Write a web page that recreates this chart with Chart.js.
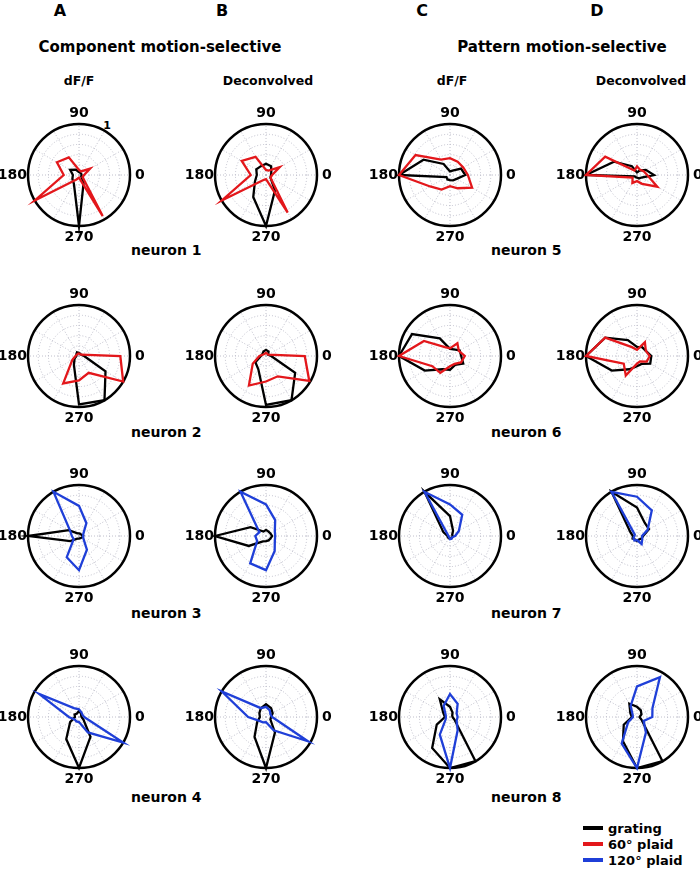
<!DOCTYPE html>
<html>
<head>
<meta charset="utf-8">
<script src="https://cdn.jsdelivr.net/npm/chart.js@4.4.0/dist/chart.umd.min.js"></script>
<style>
  body { margin: 0; background: #fff; }
  #fig { position: relative; width: 700px; height: 870px; font-family: 'DejaVu Sans', sans-serif; font-weight: bold; color: #000; }
  .t { position: absolute; white-space: nowrap; transform: translate(-50%, -50%); }
  .l { position: absolute; white-space: nowrap; transform: translateY(-50%); }
  canvas { position: absolute; }
</style>
</head>
<body>
<div id="fig">
  <div class="t" style="left:60px;top:10px;font-size:16px">A</div>
  <div class="t" style="left:222px;top:10px;font-size:16px">B</div>
  <div class="t" style="left:422px;top:10px;font-size:16px">C</div>
  <div class="t" style="left:597px;top:10px;font-size:16px">D</div>
  <div class="t" style="left:160px;top:47px;font-size:15px">Component motion-selective</div>
  <div class="t" style="left:562px;top:47px;font-size:15px">Pattern motion-selective</div>
  <div class="t" style="left:79px;top:80px;font-size:12.5px">dF/F</div>
  <div class="t" style="left:268px;top:80px;font-size:12.5px">Deconvolved</div>
  <div class="t" style="left:452px;top:80px;font-size:12.5px">dF/F</div>
  <div class="t" style="left:641px;top:80px;font-size:12.5px">Deconvolved</div>
  <div class="t" style="left:107px;top:125px;font-size:11px">1</div>
  <div class="l" style="left:131px;top:250px;font-size:14px">neuron 1</div>
  <div class="l" style="left:131px;top:432px;font-size:14px">neuron 2</div>
  <div class="l" style="left:131px;top:613px;font-size:14px">neuron 3</div>
  <div class="l" style="left:131px;top:797px;font-size:14px">neuron 4</div>
  <div class="l" style="left:491px;top:250px;font-size:14px">neuron 5</div>
  <div class="l" style="left:491px;top:432px;font-size:14px">neuron 6</div>
  <div class="l" style="left:491px;top:613px;font-size:14px">neuron 7</div>
  <div class="l" style="left:491px;top:797px;font-size:14px">neuron 8</div>
  <div id="legend"></div>
</div>
<script>
// directions (deg) in data order
const directions = [0, 30, 60, 90, 120, 150, 180, 210, 240, 270, 300, 330];
const axisLabels = { 0: '0', 90: '90', 180: '180', 270: '270' };

const legendNames = ['grating', '60° plaid', '120° plaid'];
const colGrating = '#000000';
const colPlaid60 = '#e3171b';
const colPlaid120 = '#1f3fd8';

// normalized responses per direction
const n1A_grating = [0.05, 0.05, 0.05, 0.06, 0.12, 0.2, 0.12, 0.15, 0.2, 1.0, 0.18, 0.05];
const n1A_plaid = [0.1, 0.25, 0.08, 0.1, 0.4, 0.5, 0.3, 1.0, 0.1, 0.05, 0.93, 0.08];
const n1B_grating = [0.1, 0.12, 0.2, 0.22, 0.2, 0.22, 0.18, 0.25, 0.5, 1.0, 0.35, 0.1];
const n1B_plaid = [0.12, 0.31, 0.1, 0.1, 0.41, 0.55, 0.3, 1.0, 0.12, 0.08, 0.85, 0.1];
const n2A_grating = [0.1, 0.05, 0.05, 0.06, 0.08, 0.06, 0.05, 0.1, 0.2, 0.95, 1.0, 0.6];
const n2A_plaid = [0.81, 0.05, 0.04, 0.05, 0.05, 0.05, 0.07, 0.15, 0.62, 0.48, 0.38, 1.0];
const n2B_grating = [0.1, 0.05, 0.1, 0.12, 0.1, 0.08, 0.1, 0.24, 0.3, 0.96, 1.0, 0.66];
const n2B_plaid = [0.76, 0.05, 0.05, 0.06, 0.05, 0.06, 0.13, 0.3, 0.67, 0.5, 0.46, 0.98];
const n3A_grating = [0.08, 0.05, 0.05, 0.05, 0.06, 0.23, 1.0, 0.2, 0.06, 0.05, 0.05, 0.06];
const n3A_plaid = [0.08, 0.1, 0.29, 0.59, 1.0, 0.2, 0.14, 0.12, 0.48, 0.67, 0.31, 0.1];
const n3B_grating = [0.12, 0.1, 0.1, 0.12, 0.1, 0.35, 1.0, 0.39, 0.12, 0.1, 0.1, 0.1];
const n3B_plaid = [0.18, 0.2, 0.36, 0.62, 1.0, 0.15, 0.21, 0.2, 0.62, 0.67, 0.34, 0.2];
const n4A_grating = [0.05, 0.05, 0.08, 0.12, 0.08, 0.1, 0.08, 0.2, 0.5, 1.0, 0.45, 0.1];
const n4A_plaid = [0.1, 0.08, 0.1, 0.15, 0.2, 0.9, 0.2, 0.1, 0.1, 0.1, 0.35, 1.0];
const n4B_grating = [0.1, 0.15, 0.2, 0.25, 0.2, 0.15, 0.12, 0.2, 0.45, 1.0, 0.35, 0.1];
const n4B_plaid = [0.12, 0.1, 0.15, 0.2, 0.2, 1.0, 0.35, 0.15, 0.12, 0.1, 0.3, 0.95];
const n5C_grating = [0.3, 0.25, 0.1, 0.07, 0.25, 0.6, 1.0, 0.08, 0.1, 0.1, 0.12, 0.15];
const n5C_plaid = [0.35, 0.3, 0.3, 0.33, 0.35, 0.78, 1.0, 0.45, 0.33, 0.22, 0.3, 0.5];
const n5D_grating = [0.33, 0.2, 0.1, 0.05, 0.2, 0.52, 1.0, 0.05, 0.05, 0.05, 0.08, 0.1];
const n5D_plaid = [0.2, 0.15, 0.12, 0.17, 0.1, 0.72, 1.0, 0.1, 0.18, 0.12, 0.2, 0.46];
const n6C_grating = [0.22, 0.22, 0.15, 0.14, 0.4, 0.86, 1.0, 0.57, 0.3, 0.27, 0.2, 0.3];
const n6C_plaid = [0.29, 0.2, 0.29, 0.15, 0.2, 0.59, 1.0, 0.4, 0.38, 0.2, 0.18, 0.25];
const n6D_grating = [0.28, 0.2, 0.2, 0.18, 0.36, 0.72, 1.0, 0.57, 0.3, 0.2, 0.18, 0.3];
const n6D_plaid = [0.25, 0.2, 0.31, 0.12, 0.2, 0.72, 1.0, 0.3, 0.44, 0.15, 0.12, 0.22];
const n7C_grating = [0.05, 0.05, 0.12, 0.39, 1.0, 0.15, 0.05, 0.05, 0.05, 0.05, 0.05, 0.05];
const n7C_plaid = [0.1, 0.2, 0.48, 0.62, 1.0, 0.05, 0.03, 0.03, 0.03, 0.06, 0.06, 0.05];
const n7D_grating = [0.12, 0.27, 0.3, 0.56, 1.0, 0.15, 0.08, 0.1, 0.08, 0.1, 0.08, 0.1];
const n7D_plaid = [0.1, 0.24, 0.58, 0.77, 1.0, 0.05, 0.05, 0.08, 0.1, 0.08, 0.18, 0.12];
const n8C_grating = [0.05, 0.05, 0.1, 0.2, 0.4, 0.15, 0.1, 0.3, 0.7, 1.0, 1.0, 0.1];
const n8C_plaid = [0.15, 0.15, 0.3, 0.45, 0.25, 0.1, 0.08, 0.1, 0.4, 1.0, 0.3, 0.15];
const n8D_grating = [0.05, 0.1, 0.15, 0.2, 0.3, 0.15, 0.1, 0.3, 0.55, 1.0, 1.0, 0.1];
const n8D_plaid = [0.3, 0.35, 0.9, 0.6, 0.25, 0.1, 0.08, 0.2, 0.6, 1.0, 0.35, 0.15];

const colX = [79, 266, 450, 637];
const rowY = [174.5, 355.5, 536, 717];

const panels = [
  [0, 0, n1A_grating, n1A_plaid, colPlaid60], [1, 0, n1B_grating, n1B_plaid, colPlaid60],
  [0, 1, n2A_grating, n2A_plaid, colPlaid60], [1, 1, n2B_grating, n2B_plaid, colPlaid60],
  [0, 2, n3A_grating, n3A_plaid, colPlaid120], [1, 2, n3B_grating, n3B_plaid, colPlaid120],
  [0, 3, n4A_grating, n4A_plaid, colPlaid120], [1, 3, n4B_grating, n4B_plaid, colPlaid120],
  [2, 0, n5C_grating, n5C_plaid, colPlaid60], [3, 0, n5D_grating, n5D_plaid, colPlaid60],
  [2, 1, n6C_grating, n6C_plaid, colPlaid60], [3, 1, n6D_grating, n6D_plaid, colPlaid60],
  [2, 2, n7C_grating, n7C_plaid, colPlaid120], [3, 2, n7D_grating, n7D_plaid, colPlaid120],
  [2, 3, n8C_grating, n8C_plaid, colPlaid120], [3, 3, n8D_grating, n8D_plaid, colPlaid120]
];

// radar goes clockwise from startAngle; reorder so angles run counter-clockwise from 0 on the right
const order = directions.map((d, i) => (directions.length - i) % directions.length);
const reorder = arr => order.map(k => arr[k]);

const W = 180, H = 160, R = 51;

const dirLabels = {
  id: 'dirLabels',
  afterDraw(chart) {
    const s = chart.scales.r, ctx = chart.ctx;
    ctx.save();
    ctx.fillStyle = '#000';
    ctx.font = "bold 14px 'DejaVu Sans'";
    ctx.textBaseline = 'middle';
    chart.data.labels.forEach((lab, i) => {
      if (!lab) return;
      const p = s.getPointPosition(i, s.drawingArea);
      const d = directions[order[i]];
      if (d === 0) { ctx.textAlign = 'left'; ctx.fillText(lab, p.x + 5, p.y); }
      else if (d === 180) { ctx.textAlign = 'right'; ctx.fillText(lab, p.x - 1, p.y); }
      else if (d === 90) { ctx.textAlign = 'center'; ctx.fillText(lab, p.x, p.y - 11); }
      else { ctx.textAlign = 'center'; ctx.fillText(lab, p.x, p.y + 11); }
    });
    ctx.restore();
  }
};

const fig = document.getElementById('fig');
panels.forEach(([c, r, grating, plaid, plaidColor]) => {
  const cv = document.createElement('canvas');
  cv.width = W; cv.height = H;
  cv.style.left = (colX[c] - W / 2) + 'px';
  cv.style.top = (rowY[r] - H / 2) + 'px';
  fig.appendChild(cv);
  new Chart(cv, {
    type: 'radar',
    data: {
      labels: reorder(directions.map(d => axisLabels[d] || '')),
      datasets: [
        { data: reorder(plaid), borderColor: plaidColor, borderWidth: 2.3, fill: false, pointRadius: 0, tension: 0, clip: false },
        { data: reorder(grating), borderColor: colGrating, borderWidth: 2.3, fill: false, pointRadius: 0, tension: 0, clip: false }
      ]
    },
    options: {
      responsive: false,
      animation: false,
      devicePixelRatio: 1,
      layout: { padding: { left: (W - 2 * R) / 2, right: (W - 2 * R) / 2, top: (H - 2 * R) / 2, bottom: (H - 2 * R) / 2 } },
      plugins: { legend: { display: false }, tooltip: { enabled: false } },
      scales: {
        r: {
          min: 0, max: 1, startAngle: 90,
          ticks: { display: false, stepSize: 0.2 },
          pointLabels: { display: false },
          grid: {
            circular: true,
            color: ctx => ctx.tick && ctx.tick.value > 0.99 ? '#000' : '#b9b9c6',
            lineWidth: ctx => ctx.tick && ctx.tick.value > 0.99 ? 2.5 : 0.9
          },
          border: { dash: ctx => ctx.tick && ctx.tick.value > 0.99 ? [] : [1, 2] },
          angleLines: { color: '#b9b9c6', lineWidth: 0.9, borderDash: [1, 2] }
        }
      }
    },
    plugins: [dirLabels]
  });
});

// legend
const legendColors = [colGrating, colPlaid60, colPlaid120];
const legend = document.getElementById('legend');
legendNames.forEach((name, i) => {
  const y = 828 + i * 16;
  const line = document.createElement('div');
  line.style.cssText = `position:absolute;left:583px;top:${y - 2}px;width:20px;height:4px;background:${legendColors[i]}`;
  legend.appendChild(line);
  const txt = document.createElement('div');
  txt.className = 'l';
  txt.style.cssText = `left:608px;top:${y}px;font-size:13px`;
  txt.textContent = name;
  legend.appendChild(txt);
});
</script>
</body>
</html>
